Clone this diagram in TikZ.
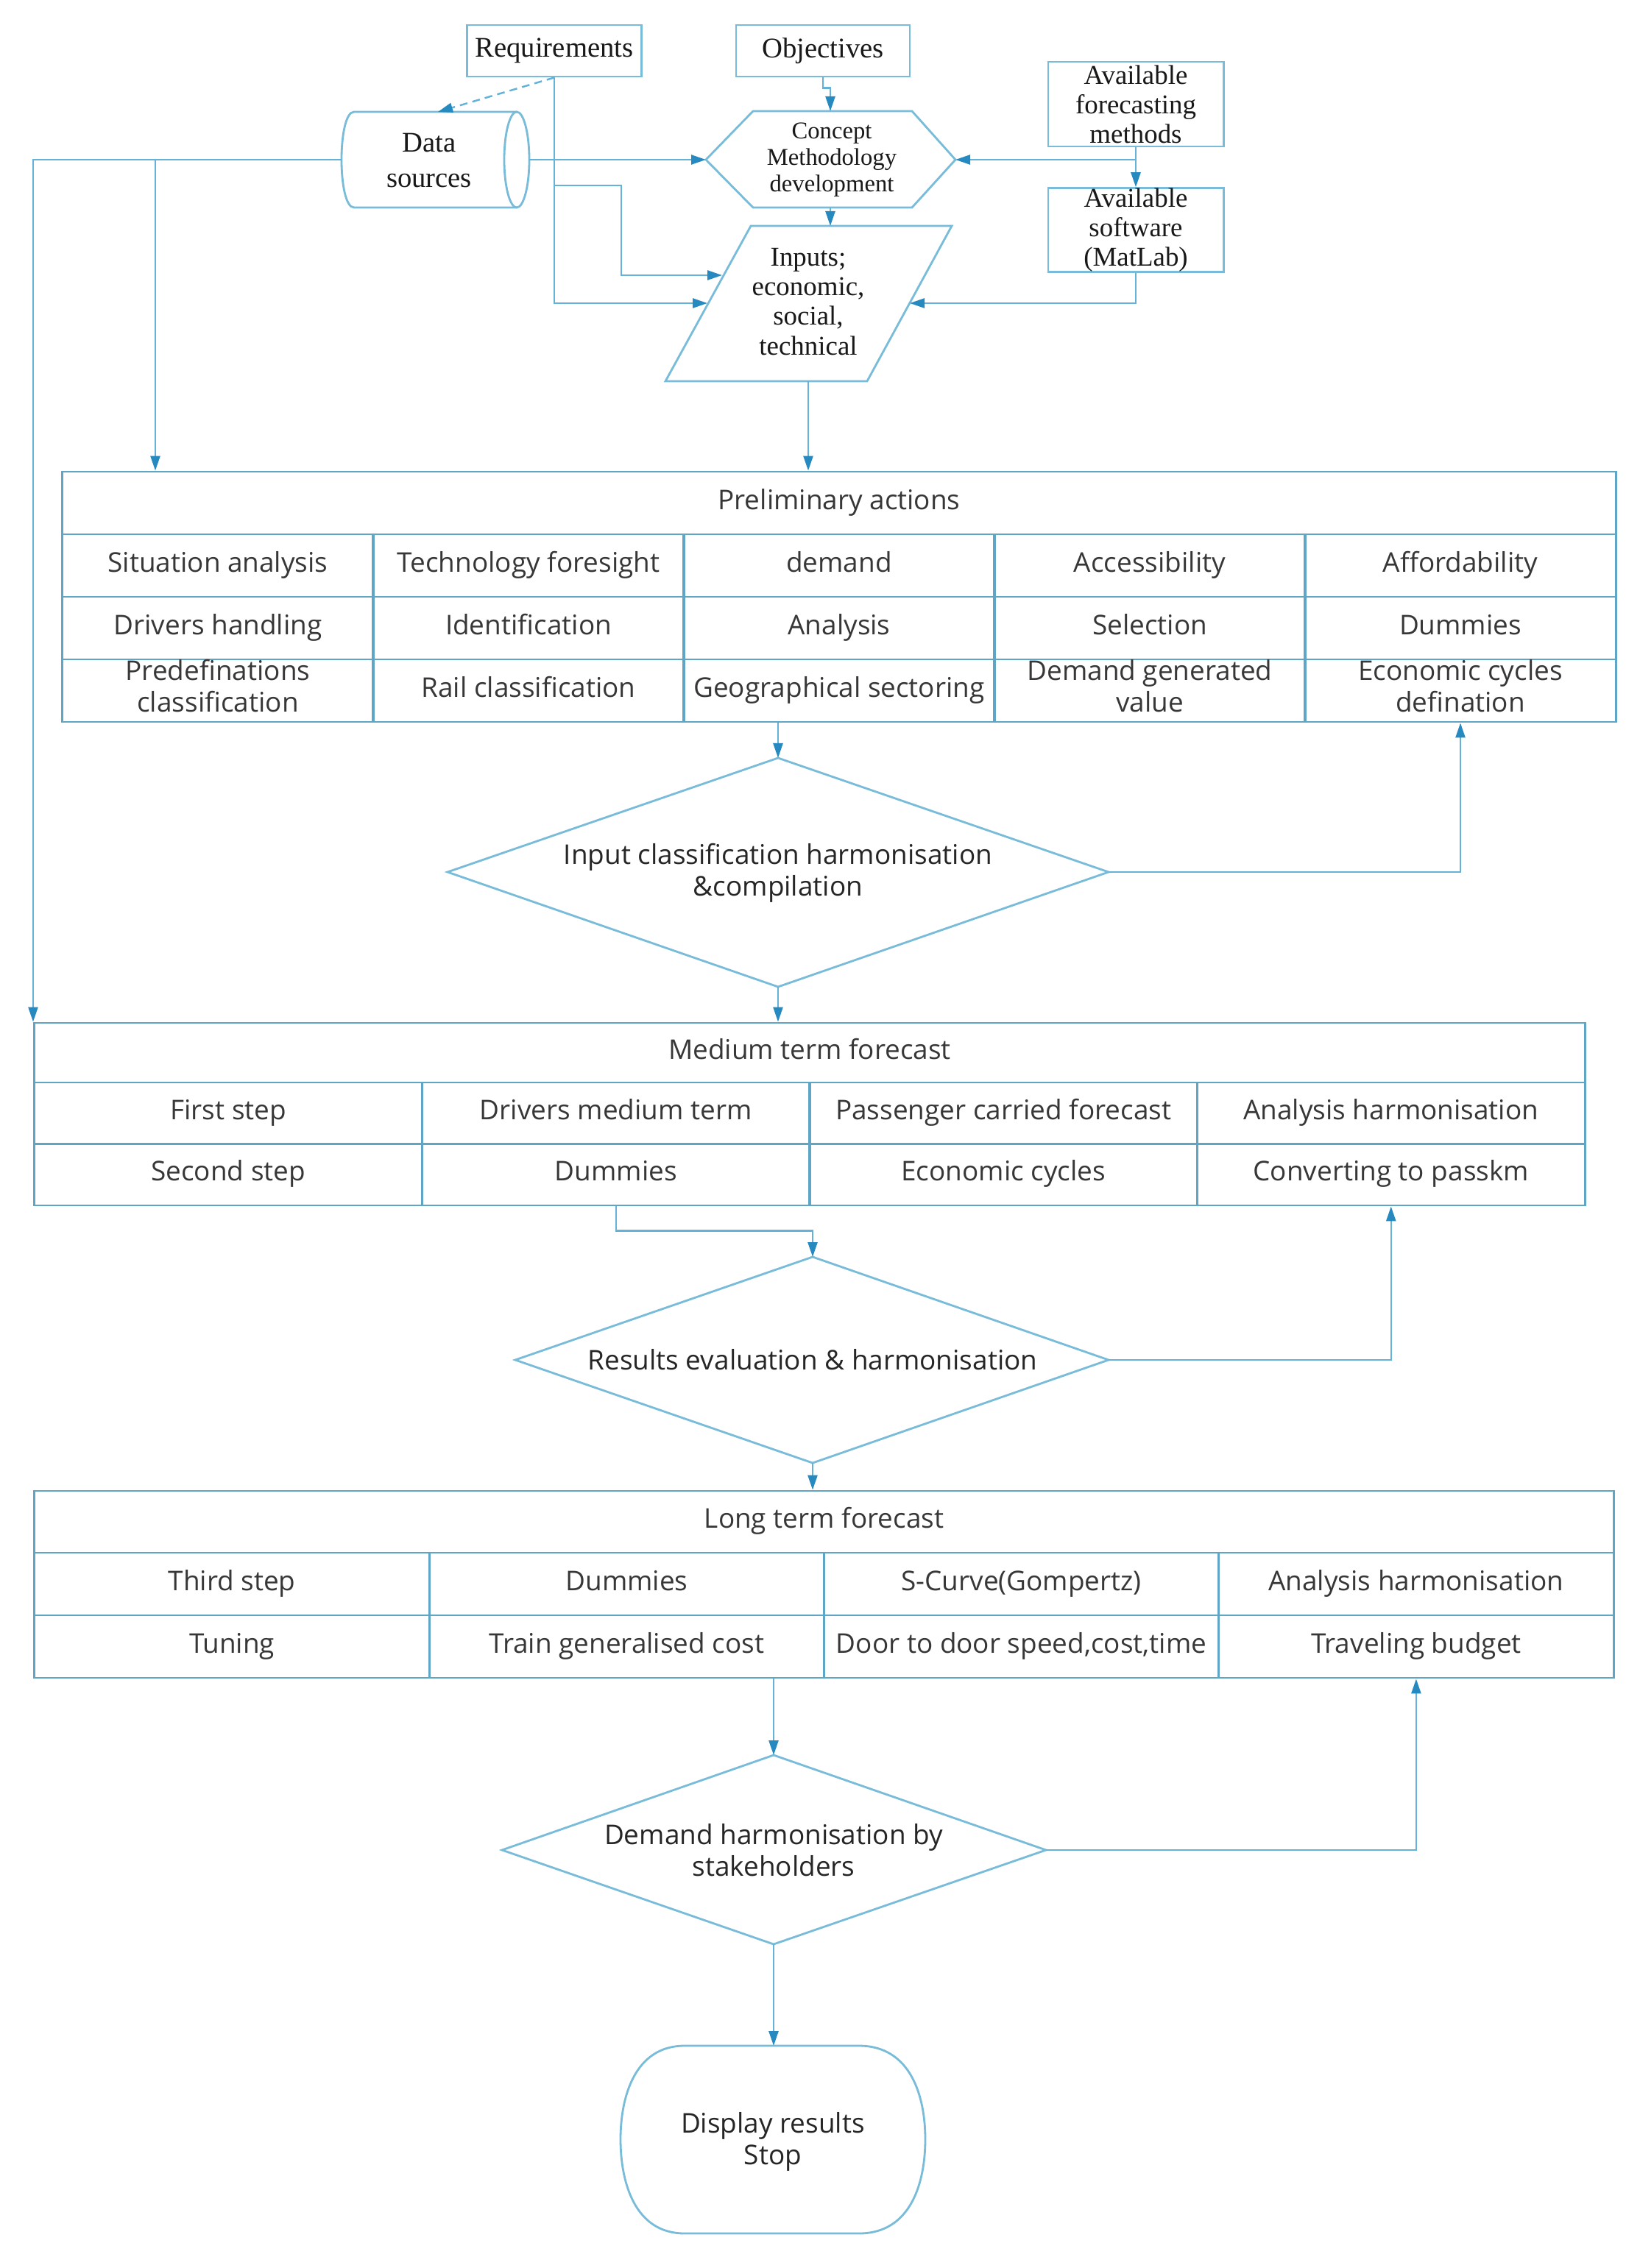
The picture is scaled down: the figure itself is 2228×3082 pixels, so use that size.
\documentclass[tikz,border=0pt]{standalone}
\usepackage{fontspec}
\setmainfont{Liberation Serif}
\newfontfamily\uisans{Open Sans}
\usetikzlibrary{arrows.meta,calc}
\definecolor{linec}{RGB}{100,178,216}
\definecolor{arrc}{RGB}{38,138,192}
\definecolor{boxc}{RGB}{120,188,218}
\definecolor{tblc}{RGB}{95,165,198}
\definecolor{serifc}{RGB}{25,25,25}
\definecolor{sansc}{RGB}{55,55,55}
\newcommand\sanssz{\uisans\fontsize{10.5}{12.2}\selectfont}
\newcommand\serifsz{\fontsize{10.5}{11.4}\selectfont}
\begin{document}
\begin{tikzpicture}[x=0.01cm,y=-0.01cm,
  conn/.style={draw=linec, line width=0.7pt, -{Triangle[length=2mm,width=1.3mm,color=arrc]}},
  plain/.style={draw=linec, line width=0.7pt},
  shapeline/.style={draw=boxc, line width=0.8pt},
  tbox/.style={draw=boxc, line width=0.8pt, inner sep=0pt, align=center, font=\serifsz, text=serifc},
  lbl/.style={inner sep=0pt, align=center},
  cellbox/.style={draw=tblc, line width=0.8pt, inner sep=0pt, align=center, font=\sanssz, text=sansc,
    execute at begin node=\strut, execute at end node=\strut},
  dtext/.style={inner sep=0pt, align=center, font=\sanssz, text=black!85}]
\fill[white] (0,0) rectangle (2228,3082);
\useasboundingbox (0,0) rectangle (2228,3082);

% ---------- top part ----------
\node[tbox, minimum width=2.37cm, minimum height=0.70cm, font=\fontsize{11}{12}\selectfont] (req) at (753,69) {Requirements};
\node[tbox, minimum width=2.36cm, minimum height=0.70cm, font=\fontsize{11}{12}\selectfont] (obj) at (1118,69) {Objectives};
\node[tbox, minimum width=2.38cm, minimum height=1.15cm] (fm) at (1543,141.5) {Available\\forecasting\\methods};
\node[tbox, minimum width=2.38cm, minimum height=1.13cm] (sw) at (1543,312.5) {Available\\software\\(MatLab)};

% data sources cylinder
\draw[shapeline] (702,152) -- (481,152) .. controls (458.3,152) and (458.3,282) .. (481,282) -- (702,282);
\draw[shapeline] (702,217) ellipse [x radius=0.17cm, y radius=0.65cm];
\node[lbl, font=\fontsize{11}{13.4}\selectfont, text=serifc] (ds) at (583,218) {Data\\sources};
\coordinate (dsW) at (464,217);
\coordinate (dsE) at (719,217);
\coordinate (dsN) at (595,152);
\coordinate (dsB) at (211,217);

% hexagon
\draw[shapeline] (959,217) -- (1023,151) -- (1239,151) -- (1298,217) -- (1239,282) -- (1023,282) -- cycle;
\node[lbl, font=\fontsize{9.3}{10.2}\selectfont, text=serifc] (hex) at (1130,217) {Concept\\Methodology\\development};
\coordinate (hexW) at (959,217);
\coordinate (hexE) at (1298,217);
\coordinate (hexN) at (1128,151);
\coordinate (hexS) at (1128,282);

% parallelogram
\draw[shapeline] (904,518) -- (1020,307) -- (1293,307) -- (1178,518) -- cycle;
\node[lbl, font=\serifsz, text=serifc] (inp) at (1098,410) {Inputs;\\economic,\\social,\\technical};
\coordinate (pN) at (1128,307);
\coordinate (pS) at (1098,518);
\coordinate (pL1) at (981,374);
\coordinate (pL2) at (961,412);
\coordinate (pR) at (1236,412);
\coordinate (rq1) at (753,252);
\coordinate (rq2) at (844,252);

% ---------- preliminary actions table ----------
\node[cellbox, minimum width=21.10cm, minimum height=0.85cm] (ph) at (1140,683.5) {Preliminary actions};
\tikzset{pcell/.style={cellbox, minimum width=4.22cm, minimum height=0.85cm}}
\node[pcell] (p11) at (296,768.5) {Situation analysis};
\node[pcell] (p12) at (718,768.5) {Technology foresight};
\node[pcell] (p13) at (1140,768.5) {demand};
\node[pcell] (p14) at (1562,768.5) {Accessibility};
\node[pcell] (p15) at (1984,768.5) {Affordability};
\node[pcell] (p21) at (296,853.5) {Drivers handling};
\node[pcell] (p22) at (718,853.5) {Identification};
\node[pcell] (p23) at (1140,853.5) {Analysis};
\node[pcell] (p24) at (1562,853.5) {Selection};
\node[pcell] (p25) at (1984,853.5) {Dummies};
\node[pcell] (p31) at (296,938.5) {Predefinations\\classification};
\node[pcell] (p32) at (718,938.5) {Rail classification};
\node[pcell] (p33) at (1140,938.5) {Geographical sectoring};
\node[pcell] (p34) at (1562,938.5) {Demand generated\\value};
\node[pcell] (p35) at (1984,938.5) {Economic cycles\\defination};

% diamond 1
\draw[shapeline] (1057,1030) -- (1506,1185) -- (1057,1341) -- (608,1185) -- cycle;
\coordinate (d1N) at (1057,1030);
\coordinate (d1E) at (1506,1185);
\coordinate (d1S) at (1057,1341);
\node[dtext] (d1) at (1057,1186) {Input classification harmonisation\\\&compilation};

% ---------- medium term table ----------
\node[cellbox, minimum width=21.06cm, minimum height=0.81cm] (mh) at (1100,1430.5) {Medium term forecast};
\tikzset{mcell/.style={cellbox, minimum width=5.265cm, minimum height=0.835cm}}
\node[mcell] (m11) at (310.25,1512.75) {First step};
\node[mcell] (m12) at (836.75,1512.75) {Drivers medium term};
\node[mcell] (m13) at (1363.25,1512.75) {Passenger carried forecast};
\node[mcell] (m14) at (1889.75,1512.75) {Analysis harmonisation};
\node[mcell] (m21) at (310.25,1596.25) {Second step};
\node[mcell] (m22) at (836.75,1596.25) {Dummies};
\node[mcell] (m23) at (1363.25,1596.25) {Economic cycles};
\node[mcell] (m24) at (1889.75,1596.25) {Converting to passkm};

% diamond 2
\draw[shapeline] (1104,1708) -- (1506,1848) -- (1104,1988) -- (700,1848) -- cycle;
\coordinate (d2N) at (1104,1708);
\coordinate (d2E) at (1506,1848);
\coordinate (d2S) at (1104,1988);
\node[dtext] (d2) at (1104,1848) {Results evaluation \& harmonisation};

% ---------- long term table ----------
\node[cellbox, minimum width=21.45cm, minimum height=0.84cm] (lh) at (1119.5,2068) {Long term forecast};
\tikzset{lcell/.style={cellbox, minimum width=5.3625cm, minimum height=0.85cm}}
\node[lcell] (l11) at (315.1,2152.5) {Third step};
\node[lcell] (l12) at (851.4,2152.5) {Dummies};
\node[lcell] (l13) at (1387.6,2152.5) {S-Curve(Gompertz)};
\node[lcell] (l14) at (1923.9,2152.5) {Analysis harmonisation};
\node[lcell] (l21) at (315.1,2237.5) {Tuning};
\node[lcell] (l22) at (851.4,2237.5) {Train generalised cost};
\node[lcell] (l23) at (1387.6,2237.5) {Door to door speed,cost,time};
\node[lcell] (l24) at (1923.9,2237.5) {Traveling budget};

% diamond 3
\draw[shapeline] (1051,2385) -- (1421,2514) -- (1051,2642) -- (682,2514) -- cycle;
\coordinate (d3N) at (1051,2385);
\coordinate (d3E) at (1421,2514);
\coordinate (d3S) at (1051,2642);
\node[dtext] (d3) at (1051,2514) {Demand harmonisation by\\stakeholders};

% terminal
\draw[shapeline] (930,2780) -- (1167,2780) .. controls (1238,2780) and (1257,2850) .. (1257,2907)
  .. controls (1257,2965) and (1238,3035) .. (1167,3035) -- (930,3035)
  .. controls (862,3035) and (843,2965) .. (843,2907) .. controls (843,2850) and (862,2780) .. (930,2780);
\coordinate (termN) at (1051,2780);
\node[dtext] (term) at (1050,2910) {Display results\\Stop};

% ---------- connectors ----------
\draw[conn, dash pattern=on 3pt off 2pt] (req.south) -- (dsN);
\draw[conn] (req.south) |- (pL2);
\draw[conn] (rq1) -- (rq2) |- (pL1);
\draw[conn] (dsE) -- (hexW);
\draw[conn] (dsW) -| (mh.north west);
\draw[conn] (dsB) -- (dsB |- ph.north);
\draw[conn] (obj.south) -- ++(0,14) -| (hexN);
\draw[conn] (fm.south) -- (sw.north);
\draw[conn] (fm.south |- hexE) -- (hexE);
\draw[conn] (sw.south) |- (pR);
\draw[conn] (hexS) -- (pN);
\draw[conn] (pS) -- (pS |- ph.north);
\draw[conn] (d1N |- p33.south) -- (d1N);
\draw[conn] (d1E) -| (p35.south);
\draw[conn] (d1S) -- (d1S |- mh.north);
\draw[conn] (m22.south) -- ++(0,33) -| (d2N);
\draw[conn] (d2E) -| (m24.south);
\draw[conn] (d2S) -- (d2S |- lh.north);
\draw[conn] (d3N |- l21.south) -- (d3N);
\draw[conn] (d3E) -| (l24.south);
\draw[conn] (d3S) -- (termN);
\end{tikzpicture}
\end{document}
